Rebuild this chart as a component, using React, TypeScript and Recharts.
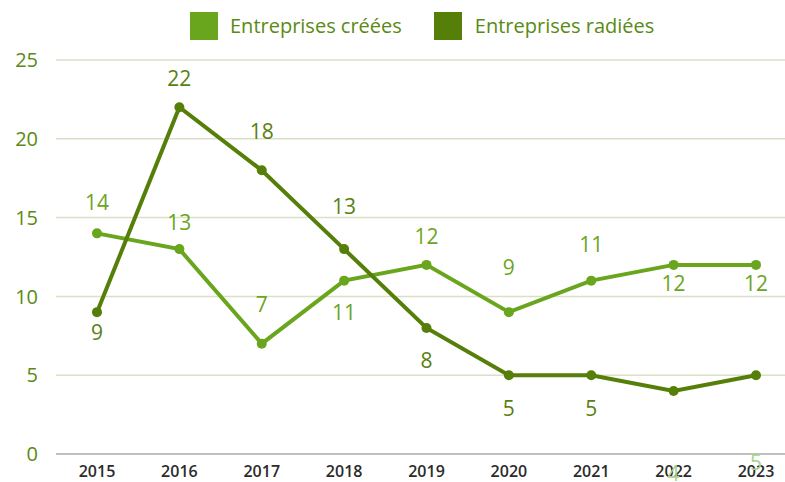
import React from 'react';
import { LineChart, Line, XAxis, YAxis, CartesianGrid, LabelList } from 'recharts';

const years = ['2015', '2016', '2017', '2018', '2019', '2020', '2021', '2022', '2023'];
const creees = [14, 13, 7, 11, 12, 9, 11, 12, 12];
const radiees = [9, 22, 18, 13, 8, 5, 5, 4, 5];
const yTicks = [0, 5, 10, 15, 20, 25];
const seriesNames = ['Entreprises créées', 'Entreprises radiées'];

// label vertical offsets (styling only)
const creeesLabelDy = [-31, -27, -40, 31, -29, -45, -37, 18, 18];
const radieesLabelDy = [20, -29, -39, -43, 32, 33, 33, 82, 87];
const radieesFaded = [false, false, false, false, false, false, false, true, true];

const LIGHT = '#6aa51e';
const DARK = '#557f08';
const FONT = '"Open Sans", "Noto Sans", sans-serif';

const data = years.map((y, i) => ({ year: y, creees: creees[i], radiees: radiees[i] }));

const makeLabel = (dys: number[], color: string, faded?: boolean[]) => (p: any) => {
  const i = p.index ?? 0;
  const fill = faded && faded[i] ? '#a9d08e' : color;
  return (
    <text
      x={p.x}
      y={p.y + dys[i]}
      textAnchor="middle"
      dominantBaseline="central"
      fontSize={21}
      fontFamily={FONT}
      fill={fill}
    >
      {p.value}
    </text>
  );
};

export default function App() {
  return (
    <div style={{ position: 'relative', width: 785, height: 482 }}>
      <style>{'html,body{margin:0;padding:0;overflow:hidden;background:#fff}'}</style>
      <div
        style={{
          position: 'absolute',
          left: 190,
          top: 12,
          display: 'flex',
          alignItems: 'center',
          fontFamily: FONT,
          fontSize: 20,
          lineHeight: '28px',
          color: '#5a8a14',
          zIndex: 2,
          whiteSpace: 'nowrap',
        }}
      >
        <span style={{ display: 'inline-block', width: 28, height: 28, background: LIGHT }} />
        <span style={{ marginLeft: 12, marginRight: 32 }}>{seriesNames[0]}</span>
        <span style={{ display: 'inline-block', width: 28, height: 28, background: DARK }} />
        <span style={{ marginLeft: 13 }}>{seriesNames[1]}</span>
      </div>
      <LineChart width={785} height={482} data={data} margin={{ top: 60, right: 0, left: 8, bottom: 0 }}>
        <CartesianGrid vertical={false} stroke="#dcdfc8" strokeWidth={1.5} />
        <XAxis
          dataKey="year"
          padding={{ left: 41, right: 29 }}
          tickLine={false}
          tickSize={0}
          tickMargin={12}
          height={28}
          axisLine={{ stroke: '#bfbfbf', strokeWidth: 2 }}
          tick={{ fontSize: 16, fill: '#2b2b2b', fontFamily: FONT, fontWeight: 600 }}
        />
        <YAxis
          domain={[0, 25]}
          ticks={yTicks}
          width={48}
          axisLine={false}
          tickLine={false}
          tickSize={0}
          tickMargin={18}
          tick={{ fontSize: 20, fill: '#5a8a14', fontFamily: FONT }}
        />
        <Line
          type="linear"
          dataKey="creees"
          name={seriesNames[0]}
          stroke={LIGHT}
          strokeWidth={4}
          dot={{ r: 5, fill: LIGHT, stroke: LIGHT, strokeWidth: 0 }}
          isAnimationActive={false}
        >
          <LabelList dataKey="creees" content={makeLabel(creeesLabelDy, LIGHT)} />
        </Line>
        <Line
          type="linear"
          dataKey="radiees"
          name={seriesNames[1]}
          stroke={DARK}
          strokeWidth={4}
          dot={{ r: 5, fill: DARK, stroke: DARK, strokeWidth: 0 }}
          isAnimationActive={false}
        >
          <LabelList dataKey="radiees" content={makeLabel(radieesLabelDy, '#5a7f12', radieesFaded)} />
        </Line>
      </LineChart>
    </div>
  );
}
